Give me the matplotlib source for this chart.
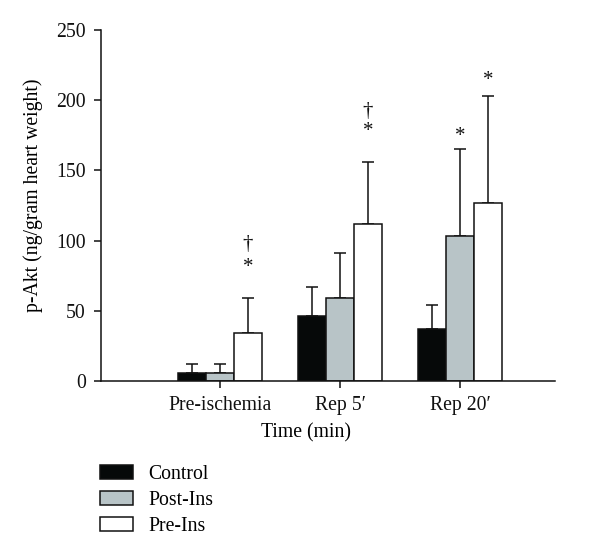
import matplotlib
matplotlib.use("Agg")
import matplotlib.pyplot as plt
import numpy as np

plt.rcParams['font.family'] = ['Liberation Serif', 'DejaVu Serif']

categories = ["Pre-ischemia", "Rep 5\u2032", "Rep 20\u2032"]
series = ["Control", "Post-Ins", "Pre-Ins"]
means = {
    "Control": [6, 46, 37],
    "Post-Ins": [6, 59, 103],
    "Pre-Ins": [34, 112, 127],
}
errs = {
    "Control": [6, 21, 17],
    "Post-Ins": [6, 32, 62],
    "Pre-Ins": [25, 44, 76],
}
colors = {"Control": "#060909", "Post-Ins": "#b8c4c7", "Pre-Ins": "#ffffff"}
# significance markers: (category index, series, symbol, y value)
marks = [
    (0, "Pre-Ins", "*", 81), (0, "Pre-Ins", "\u2020", 97),
    (1, "Pre-Ins", "*", 178), (1, "Pre-Ins", "\u2020", 192),
    (2, "Post-Ins", "*", 174),
    (2, "Pre-Ins", "*", 214),
]
yticks = [0, 50, 100, 150, 200, 250]

FS = 14.2

fig = plt.figure(figsize=(6.0, 5.56), dpi=100)
ax = fig.add_axes([101/600, 1-381/556, 454/600, 351/556])

x = np.arange(len(categories))
w = 0.233
offsets = {"Control": -w, "Post-Ins": 0.0, "Pre-Ins": w}
for s in series:
    xs = x + offsets[s]
    ax.bar(xs, means[s], width=w, color=colors[s], edgecolor="#111111",
           linewidth=1.1, label=s, zorder=2)
    ax.errorbar(xs, means[s], yerr=[np.zeros(len(x)), errs[s]], fmt="none",
                ecolor="#111111", elinewidth=1.1, capsize=4, capthick=1.1, zorder=1)

for ci, s, sym, yv in marks:
    ax.text(x[ci] + offsets[s], yv, sym, ha="center", va="center", fontsize=15, color="#111111")

ax.set_xlim(-0.99, 2.79)
ax.set_ylim(0, 250)
ax.set_yticks(yticks)
ax.set_xticks(x)
ax.set_xticklabels(categories)
for sp in ["top", "right"]:
    ax.spines[sp].set_visible(False)
for sp in ["left", "bottom"]:
    ax.spines[sp].set_linewidth(1.1)
    ax.spines[sp].set_color("#111111")
ax.tick_params(axis="y", length=5, width=1.1, pad=6, labelsize=FS, colors="#111111")
ax.tick_params(axis="x", length=5, width=1.1, pad=6, labelsize=FS, colors="#111111")

ax.set_xlabel("Time (min)", fontsize=FS)
ax.xaxis.set_label_coords((306-101)/454, -0.12)
ax.set_ylabel("p-Akt (ng/gram heart weight)", fontsize=FS)
ax.yaxis.set_label_coords(-0.128, 0.53)

handles, labels = ax.get_legend_handles_labels()
fig.legend(handles, labels, loc="upper left", bbox_to_anchor=(92/600, 1-457/556),
           frameon=False, fontsize=FS, handlelength=1.7, handleheight=0.68,
           labelspacing=0.35, handletextpad=0.75, borderaxespad=0)

fig.savefig("out.png", dpi=100)
